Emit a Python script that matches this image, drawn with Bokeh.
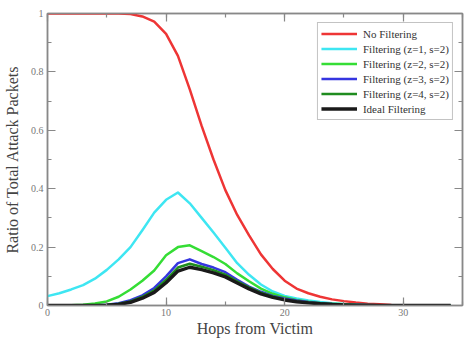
from bokeh.plotting import figure
from bokeh.models import (LinearAxis, SingleIntervalTicker, CustomJSTickFormatter,
                          Range1d, Legend, LegendItem, ColumnDataSource)
from bokeh.embed import file_html
from bokeh.resources import INLINE

hops = list(range(0, 35))

no_filtering = [1, 1, 1, 1, 1, 1, 1, 0.998, 0.99, 0.972, 0.93, 0.855, 0.74, 0.615, 0.5,
                0.395, 0.31, 0.24, 0.175, 0.125, 0.085, 0.058, 0.042, 0.03, 0.021, 0.015,
                0.01, 0.006, 0.004, 0.002, 0.001, 0, 0, 0, 0]
filt_z1 = [0.032, 0.042, 0.055, 0.07, 0.092, 0.122, 0.158, 0.2, 0.258, 0.318, 0.362, 0.387,
           0.35, 0.3, 0.25, 0.198, 0.145, 0.105, 0.072, 0.048, 0.033, 0.024, 0.017, 0.012,
           0.008, 0.005, 0.003, 0.002, 0.001, 0, 0, 0, 0, 0, 0]
filt_z2 = [0, 0, 0.001, 0.003, 0.007, 0.014, 0.03, 0.055, 0.085, 0.12, 0.172, 0.2, 0.206,
           0.186, 0.166, 0.142, 0.11, 0.083, 0.058, 0.04, 0.028, 0.019, 0.013, 0.009, 0.006,
           0.004, 0.002, 0.001, 0, 0, 0, 0, 0, 0, 0]
filt_z3 = [0, 0, 0, 0, 0, 0.003, 0.008, 0.018, 0.035, 0.06, 0.1, 0.145, 0.158, 0.142, 0.13,
           0.114, 0.088, 0.065, 0.047, 0.033, 0.024, 0.017, 0.012, 0.008, 0.005, 0.003,
           0.002, 0.001, 0, 0, 0, 0, 0, 0, 0]
filt_z4 = [0, 0, 0, 0, 0, 0.002, 0.006, 0.014, 0.03, 0.052, 0.088, 0.13, 0.143, 0.133, 0.121,
           0.106, 0.083, 0.062, 0.044, 0.031, 0.021, 0.014, 0.01, 0.007, 0.004, 0.003,
           0.002, 0.001, 0, 0, 0, 0, 0, 0, 0]
ideal = [0, 0, 0, 0, 0, 0.001, 0.004, 0.011, 0.025, 0.045, 0.078, 0.118, 0.131, 0.123, 0.112,
         0.098, 0.077, 0.057, 0.04, 0.028, 0.019, 0.013, 0.009, 0.006, 0.004, 0.002, 0.001,
         0.001, 0, 0, 0, 0, 0, 0, 0]

series = [
    ("No Filtering", no_filtering, "#ee3535"),
    ("Filtering (z=1, s=2)", filt_z1, "#3ee6f2"),
    ("Filtering (z=2, s=2)", filt_z2, "#35dd35"),
    ("Filtering (z=3, s=2)", filt_z3, "#3535e0"),
    ("Filtering (z=4, s=2)", filt_z4, "#1f8c1f"),
    ("Ideal Filtering", ideal, "#1a1a1a"),
]

FONT = "Liberation Serif"

p = figure(width=466, height=339, output_backend="svg", toolbar_location=None,
           x_range=Range1d(0, 35), y_range=Range1d(0, 1),
           min_border_left=43, min_border_right=4, min_border_top=13, min_border_bottom=34)
p.xgrid.visible = False
p.ygrid.visible = False
p.outline_line_color = "#999999"
p.outline_line_width = 1.5
p.background_fill_color = "white"
p.border_fill_color = "white"

items = []
for name, ys, col in series:
    src = ColumnDataSource(dict(x=hops, y=ys))
    w = 3.4 if name == "Ideal Filtering" else 2.5
    r = p.line("x", "y", source=src, line_color=col, line_width=w, line_join="round")
    items.append(LegendItem(label=name, renderers=[r]))

fmt = CustomJSTickFormatter(code="return String(Math.round(tick*10)/10);")
blank = CustomJSTickFormatter(code="return '';")

def style_axis(ax, labels=True):
    ax.axis_line_color = "#888888"
    ax.axis_line_width = 1.5
    ax.major_tick_line_color = "#888888"
    ax.minor_tick_line_color = "#888888"
    ax.major_tick_in = 8
    ax.major_tick_out = 0
    ax.minor_tick_in = 4
    ax.minor_tick_out = 0
    ax.major_tick_line_width = 1.2
    ax.minor_tick_line_width = 1.2
    if labels:
        ax.major_label_text_font = FONT
        ax.major_label_text_font_size = "10px"
        ax.major_label_text_color = "#777777"
        ax.axis_label_text_font = FONT
        ax.axis_label_text_font_size = "16px"
        ax.axis_label_text_font_style = "normal"
        ax.axis_label_text_color = "#444444"
    else:
        ax.formatter = blank
        ax.major_label_standoff = 0

xt = SingleIntervalTicker(interval=10, num_minor_ticks=2)
yt = SingleIntervalTicker(interval=0.2, num_minor_ticks=2)

p.xaxis.ticker = xt
p.yaxis.ticker = yt
p.xaxis.formatter = fmt
p.yaxis.formatter = fmt
p.xaxis.axis_label = "Hops from Victim"
p.yaxis.axis_label = "Ratio of Total Attack Packets"
for ax in p.xaxis + p.yaxis:
    style_axis(ax)
p.xaxis.major_label_standoff = 3
p.yaxis.major_label_standoff = 4
p.xaxis.axis_label_standoff = 1
p.yaxis.axis_label_standoff = 7

top = LinearAxis(ticker=SingleIntervalTicker(interval=10, num_minor_ticks=2))
right = LinearAxis(ticker=SingleIntervalTicker(interval=0.2, num_minor_ticks=2))
style_axis(top, labels=False)
style_axis(right, labels=False)
p.add_layout(top, "above")
p.add_layout(right, "right")

legend = Legend(items=items, location="top_right")
legend.margin = 9
legend.padding = 3
legend.spacing = 0
legend.glyph_width = 36
legend.glyph_height = 15
legend.label_height = 15
legend.label_standoff = 6
legend.label_text_font = FONT
legend.label_text_font_size = "11px"
legend.label_text_color = "#333333"
legend.border_line_color = "#888888"
legend.border_line_width = 1.5
legend.background_fill_alpha = 1
p.add_layout(legend, "center")

open("out.html", "w").write(file_html(p, INLINE))
